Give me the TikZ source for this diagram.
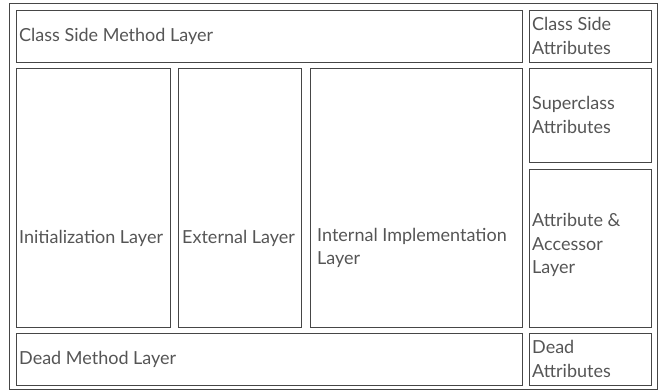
\documentclass[tikz,border=0pt]{standalone}
\usepackage{fontspec}
\setmainfont{Lato}
\definecolor{edge}{RGB}{70,70,70}
\definecolor{ink}{RGB}{85,85,85}
\begin{document}
\begin{tikzpicture}[x=1pt, y=-1pt,
	layer/.style={draw=edge, line width=0.9pt, inner sep=0pt},
	caption/.style={anchor=west, align=left, text=ink, inner sep=0pt,
		font=\fontsize{18}{23.5}\selectfont}]
	\useasboundingbox (0, 0) rectangle (659, 391);
	\draw[edge, line width=0.9pt] (9, 3) rectangle (657, 389);

	% top row
	\node[layer, minimum width=506, minimum height=52] (csm) at (269, 36) {};
	\node[layer, minimum width=122, minimum height=52] (csa) at (590, 36) {};

	% middle columns
	\node[layer, minimum width=154, minimum height=259] (init) at (93, 197.5) {};
	\node[layer, minimum width=123, minimum height=259] (ext) at (239.5, 197.5) {};
	\node[layer, minimum width=212, minimum height=259] (int) at (416, 197.5) {};

	% right column
	\node[layer, minimum width=122, minimum height=94] (sup) at (590, 115) {};
	\node[layer, minimum width=122, minimum height=158] (acc) at (590, 248) {};

	% bottom row
	\node[layer, minimum width=506, minimum height=52] (dml) at (269, 359) {};
	\node[layer, minimum width=122, minimum height=52] (da) at (590, 359) {};

	\node[caption] (csmtext) at (19, 36) {Class Side Method Layer};
	\node[caption] (csatext) at (532, 36) {Class Side\\Attributes};
	\node[caption] (inittext) at (19, 238) {Initialization Layer};
	\node[caption] (exttext) at (182, 238) {External Layer};
	\node[caption] (inttext) at (317, 248) {Internal Implementation\\Layer};
	\node[caption] (suptext) at (532, 115) {Superclass\\Attributes};
	\node[caption] (acctext) at (532, 245) {Attribute \&\\Accessor\\Layer};
	\node[caption] (dmltext) at (19, 359) {Dead Method Layer};
	\node[caption] (datext) at (532, 359) {Dead\\Attributes};
\end{tikzpicture}
\end{document}
